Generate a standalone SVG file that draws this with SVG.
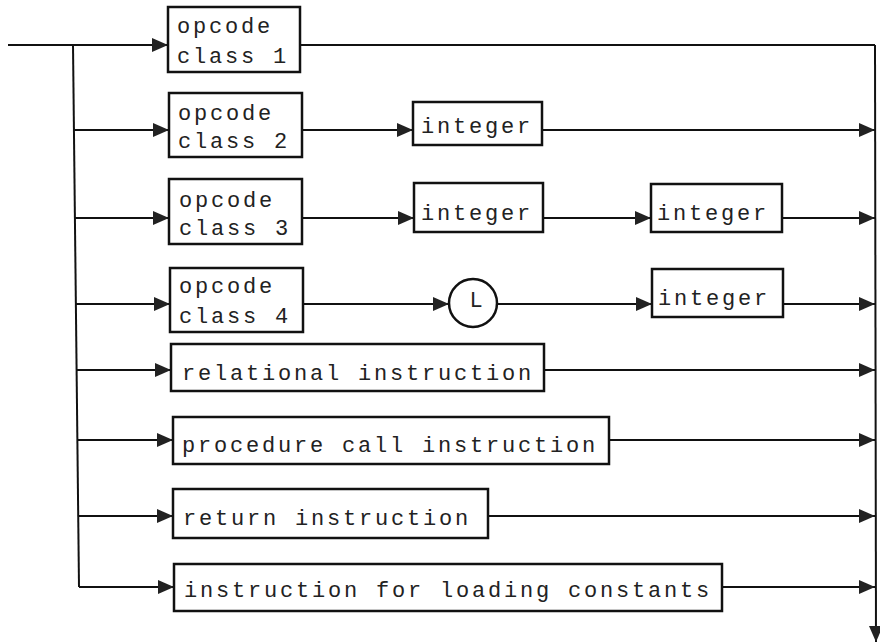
<svg xmlns="http://www.w3.org/2000/svg" width="880" height="642" viewBox="0 0 880 642">
<defs>
<marker id="ah" markerUnits="userSpaceOnUse" markerWidth="16" markerHeight="14" refX="16" refY="7" orient="auto">
<path d="M0,0 L16,7 L0,14 z" fill="#222"/>
</marker>
<style>
.box{fill:#fff;stroke:#111;stroke-width:2.5}
.ln{fill:none;stroke:#111;stroke-width:2}
.ar{fill:none;stroke:#111;stroke-width:2;marker-end:url(#ah)}
.t{font-family:"Liberation Mono","DejaVu Sans Mono",monospace;font-size:22px;letter-spacing:2.8px;fill:#222}
</style>
</defs>
<rect width="880" height="642" fill="#fff"/>
<g id="connectors">
<path class="ar" d="M8,45 H168"/>
<path class="ln" d="M73,45 L79,587"/>
<path class="ln" d="M300,45 H875"/>
<path class="ar" d="M875,45 L876,642"/>
<path class="ar" d="M74,130 H169"/>
<path class="ar" d="M302,130 H413"/>
<path class="ar" d="M542,130 H875"/>
<path class="ar" d="M75,218 H169"/>
<path class="ar" d="M302,218 H414"/>
<path class="ar" d="M543,218 H651"/>
<path class="ar" d="M782,218 H875"/>
<path class="ar" d="M76,304 H170"/>
<path class="ar" d="M303,304 H449"/>
<path class="ar" d="M497,304 H652"/>
<path class="ar" d="M783,304 H875"/>
<path class="ar" d="M77,370 H171"/>
<path class="ar" d="M544,370 H875"/>
<path class="ar" d="M77,440 H173"/>
<path class="ar" d="M609,440 H875"/>
<path class="ar" d="M78,516 H173"/>
<path class="ar" d="M488,516 H875"/>
<path class="ar" d="M79,587 H174"/>
<path class="ar" d="M722,587 H875"/>
</g>
<g id="op1"><rect class="box" x="168" y="7" width="132" height="65"/><text class="t" x="177" y="33">opcode</text><text class="t" x="177" y="63">class 1</text></g>
<g id="op2"><rect class="box" x="169" y="93" width="133" height="64"/><text class="t" x="178" y="120">opcode</text><text class="t" x="178" y="148">class 2</text></g>
<g id="int2"><rect class="box" x="413" y="102" width="129" height="43"/><text class="t" x="421" y="133">integer</text></g>
<g id="op3"><rect class="box" x="169" y="179" width="133" height="65"/><text class="t" x="179" y="207">opcode</text><text class="t" x="179" y="235">class 3</text></g>
<g id="int3a"><rect class="box" x="414" y="183" width="129" height="49"/><text class="t" x="421" y="220">integer</text></g>
<g id="int3b"><rect class="box" x="651" y="184" width="131" height="48"/><text class="t" x="657" y="220">integer</text></g>
<g id="op4"><rect class="box" x="170" y="268" width="133" height="64"/><text class="t" x="179" y="293">opcode</text><text class="t" x="179" y="323">class 4</text></g>
<g id="L"><circle cx="473" cy="303" r="24" fill="#fff" stroke="#111" stroke-width="2.5"/><text class="t" x="476" y="307" text-anchor="middle" style="letter-spacing:0">L</text></g>
<g id="int4"><rect class="box" x="652" y="269" width="131" height="48"/><text class="t" x="658" y="305">integer</text></g>
<g id="rel"><rect class="box" x="171" y="344" width="373" height="47"/><text class="t" x="182" y="380">relational instruction</text></g>
<g id="proc"><rect class="box" x="173" y="417" width="436" height="47"/><text class="t" x="182" y="452">procedure call instruction</text></g>
<g id="ret"><rect class="box" x="173" y="489" width="315" height="49"/><text class="t" x="183" y="525">return instruction</text></g>
<g id="load"><rect class="box" x="174" y="564" width="548" height="47"/><text class="t" x="184" y="597">instruction for loading constants</text></g>
</svg>
